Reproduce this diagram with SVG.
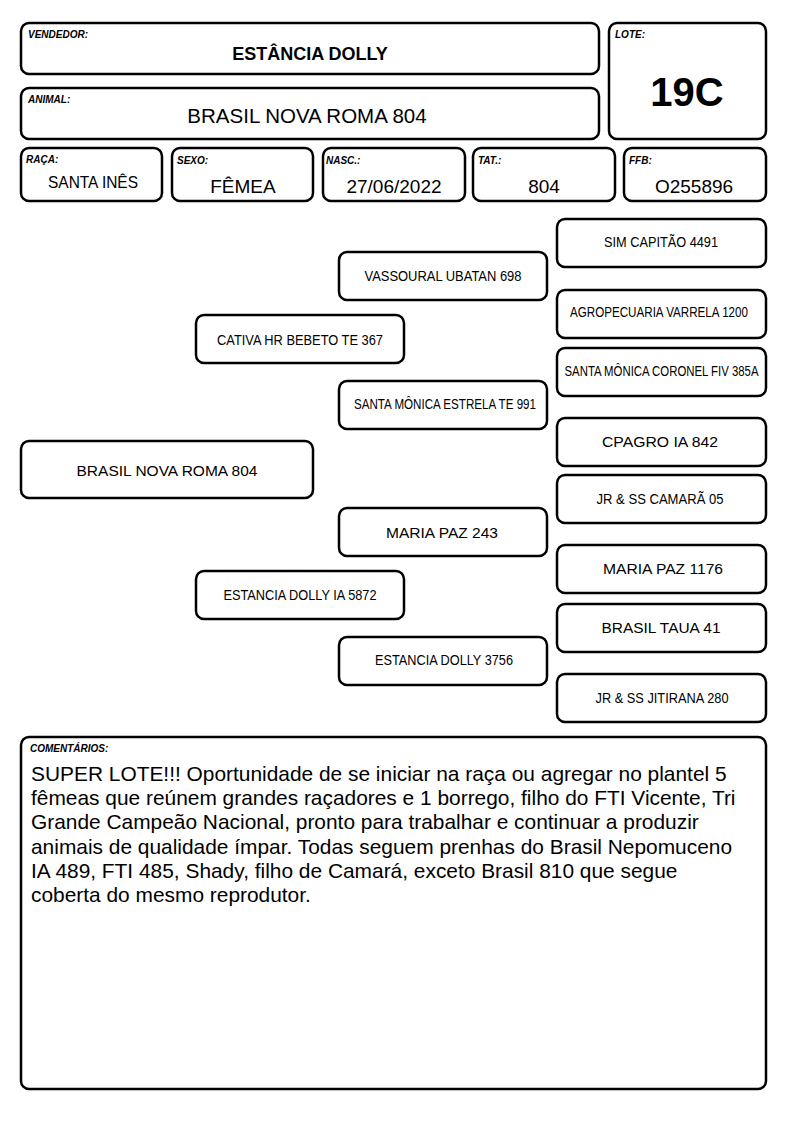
<svg xmlns="http://www.w3.org/2000/svg" width="794" height="1123" viewBox="0 0 794 1123">
<style>
.box{fill:#fff;stroke:#000;stroke-width:2.5}
.lbl{font-family:"Liberation Sans",Arial,sans-serif;font-size:10px;font-weight:bold;font-style:italic;fill:#000}
.val{font-family:"Liberation Sans",Arial,sans-serif;fill:#000;text-anchor:middle}
.ped{font-family:"Liberation Sans",Arial,sans-serif;fill:#000;text-anchor:middle;font-size:14px}
.cm{font-family:"Liberation Sans",Arial,sans-serif;fill:#000;font-size:20.9px}
</style>
<rect width="794" height="1123" fill="#fff"/>
<g id="vendedor">
<rect class="box" x="21" y="23" width="578" height="51" rx="8"/>
<text class="lbl" x="28" y="38">VENDEDOR:</text>
<text class="val" x="310" y="60" font-size="18" font-weight="bold">ESTÂNCIA DOLLY</text>
</g>
<g id="animal">
<rect class="box" x="21" y="88" width="578" height="51" rx="8"/>
<text class="lbl" x="28" y="103">ANIMAL:</text>
<text class="val" x="307" y="123" font-size="20.5">BRASIL NOVA ROMA 804</text>
</g>
<g id="lote">
<rect class="box" x="609" y="23" width="157" height="116" rx="8"/>
<text class="lbl" x="615" y="38">LOTE:</text>
<text class="val" x="687" y="106" font-size="40" font-weight="bold">19C</text>
</g>
<g id="raca">
<rect class="box" x="21" y="148" width="141" height="53" rx="8"/>
<text class="lbl" x="26" y="163">RAÇA:</text>
<text class="val" x="93" y="188" font-size="17" textLength="90" lengthAdjust="spacingAndGlyphs">SANTA INÊS</text>
</g>
<g id="sexo">
<rect class="box" x="172" y="148" width="141" height="53" rx="8"/>
<text class="lbl" x="177" y="164">SEXO:</text>
<text class="val" x="243" y="193" font-size="19">FÊMEA</text>
</g>
<g id="nasc">
<rect class="box" x="323" y="148" width="142" height="53" rx="8"/>
<text class="lbl" x="326" y="164">NASC.:</text>
<text class="val" x="394" y="193" font-size="19">27/06/2022</text>
</g>
<g id="tat">
<rect class="box" x="473" y="148" width="142" height="53" rx="8"/>
<text class="lbl" x="478" y="164">TAT.:</text>
<text class="val" x="544" y="193" font-size="19">804</text>
</g>
<g id="ffb">
<rect class="box" x="624" y="148" width="142" height="53" rx="8"/>
<text class="lbl" x="629" y="164">FFB:</text>
<text class="val" x="694" y="193" font-size="19">O255896</text>
</g>
<g id="connectors"></g>
<g id="p-main">
<rect class="box" x="21" y="441" width="292" height="57" rx="8"/>
<text class="ped" x="167" y="476" font-size="16.5" textLength="181" lengthAdjust="spacingAndGlyphs">BRASIL NOVA ROMA 804</text>
</g>
<g id="p-sire">
<rect class="box" x="196" y="315" width="208" height="48" rx="8"/>
<text class="ped" x="300" y="345" textLength="166" lengthAdjust="spacingAndGlyphs">CATIVA HR BEBETO TE 367</text>
</g>
<g id="p-dam">
<rect class="box" x="196" y="571" width="208" height="48" rx="8"/>
<text class="ped" x="300" y="600" textLength="153" lengthAdjust="spacingAndGlyphs">ESTANCIA DOLLY IA 5872</text>
</g>
<g id="p-ss">
<rect class="box" x="339" y="252" width="208" height="48" rx="8"/>
<text class="ped" x="443" y="281" font-size="14.4" textLength="157" lengthAdjust="spacingAndGlyphs">VASSOURAL UBATAN 698</text>
</g>
<g id="p-sd">
<rect class="box" x="339" y="381" width="208" height="48" rx="8"/>
<text class="ped" x="445" y="409" font-size="13.5" textLength="182" lengthAdjust="spacingAndGlyphs">SANTA MÔNICA ESTRELA TE 991</text>
</g>
<g id="p-ds">
<rect class="box" x="339" y="508" width="208" height="48" rx="8"/>
<text class="ped" x="442" y="538" font-size="16.5" textLength="112" lengthAdjust="spacingAndGlyphs">MARIA PAZ 243</text>
</g>
<g id="p-dd">
<rect class="box" x="339" y="637" width="208" height="48" rx="8"/>
<text class="ped" x="444" y="665" textLength="138" lengthAdjust="spacingAndGlyphs">ESTANCIA DOLLY 3756</text>
</g>
<g id="p-sss">
<rect class="box" x="557" y="219" width="209" height="48" rx="8"/>
<text class="ped" x="661" y="247" font-size="14.5" textLength="114" lengthAdjust="spacingAndGlyphs">SIM CAPITÃO 4491</text>
</g>
<g id="p-ssd">
<rect class="box" x="557" y="290" width="209" height="48" rx="8"/>
<text class="ped" x="659" y="317" font-size="13.5" textLength="178" lengthAdjust="spacingAndGlyphs">AGROPECUARIA VARRELA 1200</text>
</g>
<g id="p-sds">
<rect class="box" x="557" y="348" width="209" height="48" rx="8"/>
<text class="ped" x="661.5" y="376" font-size="11.8" textLength="194" lengthAdjust="spacingAndGlyphs">SANTA MÔNICA CORONEL FIV 385A</text>
</g>
<g id="p-sdd">
<rect class="box" x="557" y="418" width="209" height="48" rx="8"/>
<text class="ped" x="660" y="447" font-size="16.5" textLength="116" lengthAdjust="spacingAndGlyphs">CPAGRO IA 842</text>
</g>
<g id="p-dss">
<rect class="box" x="557" y="475" width="209" height="48" rx="8"/>
<text class="ped" x="660" y="504" textLength="127" lengthAdjust="spacingAndGlyphs">JR &amp; SS CAMARÃ 05</text>
</g>
<g id="p-dsd">
<rect class="box" x="557" y="545" width="209" height="48" rx="8"/>
<text class="ped" x="663" y="574" font-size="17" textLength="120" lengthAdjust="spacingAndGlyphs">MARIA PAZ 1176</text>
</g>
<g id="p-dds">
<rect class="box" x="557" y="604" width="209" height="48" rx="8"/>
<text class="ped" x="661" y="633" font-size="17" textLength="119" lengthAdjust="spacingAndGlyphs">BRASIL TAUA 41</text>
</g>
<g id="p-ddd">
<rect class="box" x="557" y="674" width="209" height="48" rx="8"/>
<text class="ped" x="662" y="703" textLength="133" lengthAdjust="spacingAndGlyphs">JR &amp; SS JITIRANA 280</text>
</g>
<g id="comentarios">
<rect class="box" x="21" y="737" width="745" height="352" rx="8"/>
<text class="lbl" x="30" y="752">COMENTÁRIOS:</text>
<text class="cm" x="31" y="781">SUPER LOTE!!! Oportunidade de se iniciar na raça ou agregar no plantel 5</text>
<text class="cm" x="31" y="805">fêmeas que reúnem grandes raçadores e 1 borrego, filho do FTI Vicente, Tri</text>
<text class="cm" x="31" y="829">Grande Campeão Nacional, pronto para trabalhar e continuar a produzir</text>
<text class="cm" x="31" y="854">animais de qualidade ímpar. Todas seguem prenhas do Brasil Nepomuceno</text>
<text class="cm" x="31" y="878">IA 489, FTI 485, Shady, filho de Camará, exceto Brasil 810 que segue</text>
<text class="cm" x="31" y="902">coberta do mesmo reprodutor.</text>
</g>
</svg>
